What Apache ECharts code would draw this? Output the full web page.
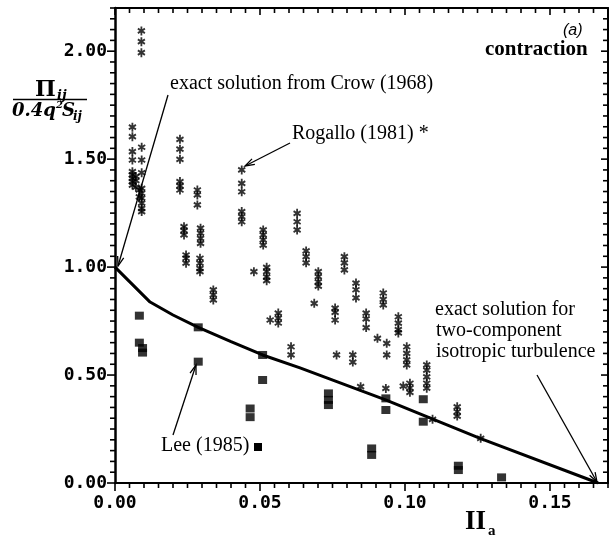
<!DOCTYPE html>
<html><head><meta charset="utf-8">
<script src="https://cdn.jsdelivr.net/npm/echarts/dist/echarts.min.js"></script>
<style>html,body{margin:0;padding:0;background:#fff}#c{width:616px;height:537px}</style>
</head><body><div id="c"></div>
<script>
// Axis ranges / ticks
const xRange = [0, 0.17];
const yRange = [0, 2.2];
const xMajor = 0.05, xMinor = 0.005;
const yMajor = 0.5, yMinor = 0.05;

// Rogallo (1981) DNS points (asterisks): x position of each column and its values
const rogalloColX = [0.0091,0.0060,0.0092,0.0072,0.0084,0.0224,0.0238,0.0245,0.0284,0.0295,0.0293,0.0339,
  0.0437,0.0479,0.0511,0.0523,0.0535,0.0563,0.0607,0.0628,0.0659,0.0687,0.0701,0.0759,0.0764,0.0791,
  0.0820,0.0831,0.0847,0.0866,0.0905,0.0925,0.0934,0.0937,0.0977,0.0994,0.1006,0.1017,0.1075,0.1095,0.1180,0.1261];
const rogalloColY = [
  [2.094,2.044,1.993],
  [1.648,1.604,1.535,1.496,1.442,1.427,1.411,1.396,1.380],
  [1.555,1.496,1.437,1.365,1.342,1.319,1.296,1.272,1.257],
  [1.42,1.40,1.37],
  [1.357,1.325],
  [1.592,1.546,1.499,1.396,1.376,1.357],
  [1.187,1.169,1.149],
  [1.056,1.041,1.018],
  [1.357,1.334,1.288],
  [1.180,1.157,1.133,1.110],
  [1.041,1.018,0.994,0.979],
  [0.894,0.871,0.848],
  [1.450,1.388,1.349,1.257,1.234,1.210],
  [0.979],
  [1.172,1.149,1.126,1.102],
  [0.999,0.979,0.955,0.937],
  [0.755],
  [0.787,0.764,0.741],
  [0.631,0.593],
  [1.249,1.210,1.172],
  [1.075,1.048,1.020],
  [0.832],
  [0.979,0.956,0.932,0.912],
  [0.81,0.79,0.755],
  [0.593],
  [1.048,1.02,0.987],
  [0.593,0.56],
  [0.926,0.895,0.857],
  [0.446],
  [0.787,0.76,0.72],
  [0.67],
  [0.88,0.85,0.825],
  [0.438],
  [0.647,0.593],
  [0.77,0.74,0.71,0.695],
  [0.449],
  [0.631,0.60,0.57,0.547],
  [0.462,0.44,0.42],
  [0.547,0.523,0.492,0.462,0.439],
  [0.295],
  [0.353,0.33,0.31],
  [0.207]
];

// Lee (1985) points (squares)
const leeColX = [0.0084,0.0095,0.0287,0.0466,0.0509,0.0736,0.0885,0.0934,0.1063,0.1184,0.1333];
const leeColY = [
  [0.775,0.650],[0.625,0.604],[0.721,0.562],[0.345,0.305],[0.593,0.477],
  [0.415,0.385,0.361],[0.16,0.13],[0.392,0.338],[0.388,0.284],[0.08,0.06],[0.026]
];

// Exact solution curve
const exactX = [0, 0.0121, 0.0200, 0.0287, 0.0400, 0.0509, 0.0638, 0.0931, 0.1259, 0.1666];
const exactY = [1.0, 0.838, 0.778, 0.721, 0.655, 0.593, 0.533, 0.386, 0.207, 0];

function expand(cx, cy){ const out=[]; cx.forEach((x,i)=>cy[i].forEach(y=>out.push([x,y]))); return out; }
const rogalloData = expand(rogalloColX, rogalloColY);
const leeData = expand(leeColX, leeColY);
const exactData = exactX.map((x,i)=>[x, exactY[i]]);

// filled six-armed asterisk symbol
function asteriskPath(){
  const w = 0.22; let p = '';
  [90, 30, 150].forEach(deg=>{
    const a = deg*Math.PI/180, dx = Math.cos(a), dy = Math.sin(a), nx = -dy*w, ny = dx*w;
    const pts = [[dx+nx, dy+ny],[dx-nx, dy-ny],[-dx-nx, -dy-ny],[-dx+nx, -dy+ny]];
    p += 'M' + pts.map(q=>q[0].toFixed(3)+','+q[1].toFixed(3)).join('L') + 'Z';
  });
  return 'path://' + p;
}
const AST = asteriskPath();
const monoFont = {fontFamily:'DejaVu Sans Mono', fontWeight:'bold', fontSize:18, color:'#000'};

function arrow(x1,y1,x2,y2){
  const a = Math.atan2(y2-y1, x2-x1), L = 10, s = 0.32;
  return [
    {type:'line', shape:{x1,y1,x2,y2}, style:{stroke:'#000', lineWidth:1.3}, z:10},
    {type:'polyline', shape:{points:[[x2-L*Math.cos(a-s), y2-L*Math.sin(a-s)],[x2,y2],[x2-L*Math.cos(a+s), y2-L*Math.sin(a+s)]]},
     style:{stroke:'#000', lineWidth:1.3, fill:'none'}, z:10}
  ];
}
function txt(x,y,text,font){
  return {type:'text', x, y, z:10, style:{text, fill:'#000', font, textAlign:'left', textVerticalAlign:'middle'}};
}

// grid geometry
const W = 616, H = 537;
const G = {left:115, right:8, top:8, bottom:54};

const chart = echarts.init(document.getElementById('c'));
chart.setOption({
  animation:false,
  grid:{left:G.left, right:G.right, top:G.top, bottom:G.bottom},
  xAxis:[
    {type:'value', min:xRange[0], max:xRange[1], interval:xMajor, position:'bottom',
     axisLine:{show:true, onZero:false, lineStyle:{color:'#000', width:2}},
     axisTick:{show:false},
     axisLabel:Object.assign({formatter:v=>v.toFixed(2), showMaxLabel:false, margin:11}, monoFont),
     splitLine:{show:false}},
    {type:'value', min:xRange[0], max:xRange[1], position:'top',
     axisLine:{show:true, onZero:false, lineStyle:{color:'#000', width:2}},
     axisTick:{show:false}, axisLabel:{show:false}, splitLine:{show:false}}
  ],
  yAxis:[
    {type:'value', min:yRange[0], max:yRange[1], interval:yMajor, position:'left',
     axisLine:{show:true, onZero:false, lineStyle:{color:'#000', width:2.5}},
     axisTick:{show:false},
     axisLabel:Object.assign({formatter:v=>v.toFixed(2), showMaxLabel:false, margin:8}, monoFont),
     splitLine:{show:false}},
    {type:'value', min:yRange[0], max:yRange[1], position:'right',
     axisLine:{show:true, onZero:false, lineStyle:{color:'#000', width:2}},
     axisTick:{show:false}, axisLabel:{show:false}, splitLine:{show:false}}
  ],
  series:[
    {type:'line', name:'exact', data:exactData, showSymbol:false, symbol:'none', smooth:false,
     lineStyle:{color:'#000', width:3}, z:2},
    {type:'scatter', name:'Lee (1985)', data:leeData, symbol:'rect', symbolSize:[9,8],
     itemStyle:{color:'#000'}, z:3},
    {type:'scatter', name:'Rogallo (1981)', data:rogalloData, symbol:AST, symbolSize:[8,9],
     itemStyle:{color:'#000'}, z:3}
  ]
});

// Axis ticks along the frame (linear value-axis mapping of the grid), drawn as thin filled bars
const gx0 = G.left, gx1 = W - G.right, gy0 = H - G.bottom, gy1 = G.top;
const mapX = v => gx0 + (v - xRange[0]) / (xRange[1] - xRange[0]) * (gx1 - gx0);
const mapY = v => gy0 - (v - yRange[0]) / (yRange[1] - yRange[0]) * (gy0 - gy1);
const ticks = [];
const tw = 1.6;
const tr = (x,y,w,h)=>ticks.push({type:'rect', z:10, shape:{x, y, width:w, height:h}, style:{fill:'#000'}});
const nX = Math.round((xRange[1]-xRange[0])/xMinor), nXm = Math.round(xMajor/xMinor);
for (let k=0; k<=nX; k++){
  const px = mapX(xRange[0] + k*xMinor);
  const major = k % nXm === 0;
  tr(px - tw/2, gy0, tw, major ? 8 : 5);
  tr(px - tw/2, gy1, tw, major ? 7 : 5);
}
const nY = Math.round((yRange[1]-yRange[0])/yMinor), nYm = Math.round(yMajor/yMinor);
for (let k=0; k<=nY; k++){
  const py = mapY(yRange[0] + k*yMinor);
  const major = k % nYm === 0;
  const lenL = major ? 8 : 5, lenR = major ? 7 : 5;
  tr(gx0 - lenL, py - tw/2, lenL, tw);
  tr(gx1 - lenR, py - tw/2, lenR, tw);
}

chart.setOption({
  graphic:[].concat(
    [
      txt(563, 31, '(a)', 'italic 16px "Liberation Sans"'),
      txt(485, 50, 'contraction', 'bold 21px "Liberation Serif"'),
      txt(170, 84, 'exact solution from Crow (1968)', '20px "Liberation Serif"'),
      txt(292, 134, 'Rogallo (1981) *', '20px "Liberation Serif"'),
      txt(161, 446, 'Lee (1985)', '20px "Liberation Serif"'),
      {type:'rect', shape:{x:254, y:443, width:8, height:8}, style:{fill:'#000'}, z:10},
      txt(435, 310, 'exact solution for', '20px "Liberation Serif"'),
      txt(436, 331, 'two-component', '20px "Liberation Serif"'),
      txt(436, 352, 'isotropic turbulence', '20px "Liberation Serif"'),
      // y-axis label: Pi_ij / (0.4 q^2 S_ij)
      txt(35, 90, 'Π', 'bold 22px "DejaVu Serif"'),
      txt(57, 96, 'ij', 'bold italic 13px "DejaVu Serif"'),
      {type:'line', shape:{x1:13, y1:99.5, x2:87, y2:99.5}, style:{stroke:'#000', lineWidth:1.5}, z:10},
      txt(12, 111, '0.4q', 'bold italic 18px "DejaVu Serif"'),
      txt(56, 105, '2', 'bold italic 10px "DejaVu Serif"'),
      txt(62, 111, 'S', 'bold italic 18px "DejaVu Serif"'),
      txt(73, 117, 'ij', 'bold italic 12px "DejaVu Serif"'),
      // x-axis label II_a
      txt(465, 522, 'II', 'bold 27px "Liberation Serif"'),
      txt(488, 531, 'a', 'bold 15px "Liberation Serif"')
    ],
    arrow(168, 95, 118, 266),
    arrow(290, 143, 245, 166),
    arrow(173, 435, 196, 365),
    arrow(537, 375, 597, 482),
    ticks
  )
});
</script></body></html>
